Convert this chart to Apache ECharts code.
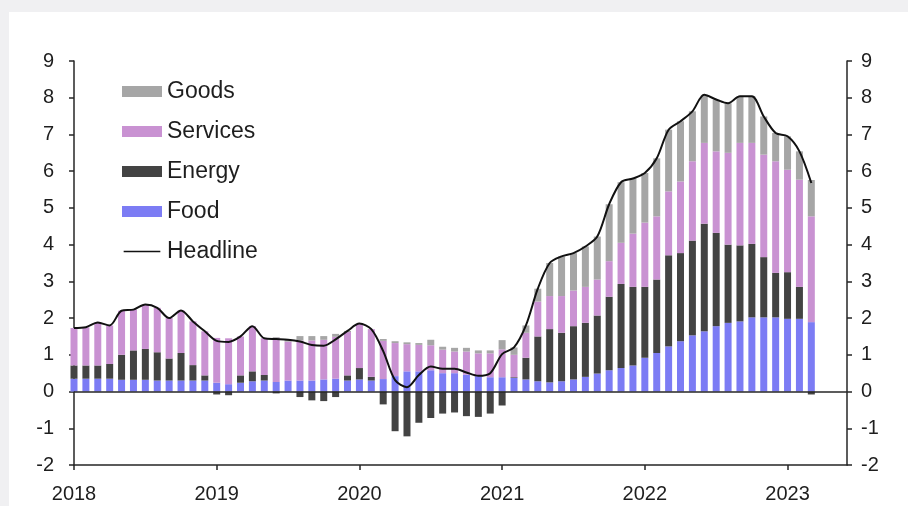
<!DOCTYPE html>
<html><head><meta charset="utf-8">
<script src="https://cdn.jsdelivr.net/npm/echarts@6/dist/echarts.min.js"></script>
<style>
html,body{margin:0;padding:0;background:#f0f0f2;width:908px;height:506px;overflow:hidden;}
#panel{position:absolute;left:9px;top:12px;right:0;bottom:0;background:#fff;}
#chart{position:absolute;left:0;top:0;width:908px;height:506px;}
</style></head><body>
<div id="panel"></div><div id="chart"></div>
<script>
const months = [
 '2018-01','2018-02','2018-03','2018-04','2018-05','2018-06','2018-07','2018-08','2018-09','2018-10','2018-11','2018-12',
 '2019-01','2019-02','2019-03','2019-04','2019-05','2019-06','2019-07','2019-08','2019-09','2019-10','2019-11','2019-12',
 '2020-01','2020-02','2020-03','2020-04','2020-05','2020-06','2020-07','2020-08','2020-09','2020-10','2020-11','2020-12',
 '2021-01','2021-02','2021-03','2021-04','2021-05','2021-06','2021-07','2021-08','2021-09','2021-10','2021-11','2021-12',
 '2022-01','2022-02','2022-03','2022-04','2022-05','2022-06','2022-07','2022-08','2022-09','2022-10','2022-11','2022-12',
 '2023-01','2023-02','2023-03','2023-04','2023-05','2023-06'
];
const food = [
 0.35,0.35,0.35,0.35,0.32,0.32,0.32,0.30,0.30,0.30,0.30,0.30,
 0.24,0.20,0.24,0.28,0.30,0.26,0.30,0.30,0.30,0.33,0.35,0.30,
 0.33,0.30,0.34,0.42,0.55,0.55,0.58,0.50,0.50,0.46,0.42,0.39,
 0.39,0.37,0.33,0.28,0.25,0.28,0.33,0.40,0.49,0.58,0.64,0.71,
 0.92,1.05,1.23,1.37,1.53,1.64,1.78,1.87,1.91,2.02,2.02,2.02,
 1.98,1.98,1.89
];
const energy = [
 0.36,0.36,0.36,0.40,0.68,0.80,0.84,0.77,0.60,0.75,0.42,0.14,
 -0.08,-0.10,0.20,0.27,0.15,-0.05,0.00,-0.15,-0.24,-0.26,-0.15,0.14,
 0.31,0.10,-0.35,-1.08,-1.22,-0.85,-0.72,-0.60,-0.57,-0.67,-0.69,-0.60,
 -0.38,0.02,0.59,1.22,1.45,1.32,1.45,1.47,1.58,2.00,2.29,2.14,
 1.93,2.00,2.48,2.40,2.58,2.93,2.54,2.13,2.07,2.00,1.64,1.21,
 1.27,0.87,-0.08
];
const services = [
 1.02,1.04,1.17,1.05,1.20,1.11,1.21,1.21,1.10,1.16,1.19,1.20,
 1.22,1.25,1.06,1.23,1.00,1.20,1.06,1.09,1.09,1.08,1.14,1.18,
 1.21,1.30,1.04,0.90,0.74,0.72,0.68,0.64,0.59,0.63,0.62,0.65,
 0.76,0.61,0.68,0.95,0.90,1.00,0.97,0.98,0.98,0.97,1.12,1.45,
 1.75,1.72,1.74,1.95,2.16,2.20,2.22,2.50,2.79,2.75,2.79,3.04,
 2.79,2.92,2.88
];
const goods = [
 0,0,0,0,0,0,0,0,0,0,0,0,
 0,0,0,0,0,0.02,0.05,0.12,0.12,0.10,0.08,0.03,
 0,0,0.05,0.05,0.05,0.05,0.15,0.08,0.10,0.10,0.08,0.08,
 0.25,0.20,0.20,0.35,0.90,1.08,1.02,1.10,1.17,1.55,1.65,1.50,
 1.35,1.58,1.68,1.64,1.36,1.31,1.41,1.35,1.27,1.27,1.04,0.77,
 0.91,0.77,0.99
];
const headline = [
 1.73,1.75,1.88,1.80,2.20,2.23,2.37,2.28,2.00,2.21,1.91,1.64,
 1.38,1.35,1.50,1.78,1.45,1.43,1.41,1.36,1.27,1.25,1.42,1.65,
 1.85,1.70,1.10,0.31,0.12,0.45,0.68,0.62,0.62,0.52,0.43,0.50,
 1.02,1.20,1.80,2.80,3.50,3.68,3.77,3.95,4.22,5.10,5.70,5.80,
 5.95,6.35,7.13,7.36,7.63,8.08,7.95,7.85,8.04,8.04,7.49,7.04,
 6.95,6.54,5.68
];
const yTicks = [-2,-1,0,1,2,3,4,5,6,7,8,9];

const FONT = 'Liberation Sans, Arial, Helvetica, sans-serif';
const TXT = '#1e1e1e';
const AX = '#262626';
const colors = {Goods:'#a6a6a6', Services:'#c992d2', Energy:'#434343', Food:'#7c7cf4', Headline:'#111111'};

function yAxisCfg(pos, margin){
  return {
    type:'value', position:pos, min:yTicks[0], max:yTicks[yTicks.length-1], interval:1,
    axisLine:{show:true, lineStyle:{color:AX, width:1.5}},
    axisTick:{show:true, inside:false, length:5, lineStyle:{color:AX, width:1.5}},
    axisLabel:{color:TXT, fontSize:20, fontFamily:FONT, margin:margin},
    splitLine:{show:false}
  };
}

const chart = echarts.init(document.getElementById('chart'), null, {renderer:'canvas'});
const barBase = {type:'bar', stack:'c', barWidth:7, clip:true, animation:false, emphasis:{disabled:true}};
chart.setOption({
  animation:false,
  backgroundColor:'transparent',
  grid:{left:74, right:61, top:61, bottom:41, containLabel:false},
  legend:{
    orient:'vertical', left:117, top:75, itemWidth:40, itemHeight:11, itemGap:17,
    textStyle:{color:TXT, fontSize:23, fontFamily:FONT, lineHeight:22},
    data:[
      {name:'Goods', icon:'rect'},
      {name:'Services', icon:'rect'},
      {name:'Energy', icon:'rect'},
      {name:'Food', icon:'rect'},
      {name:'Headline', icon:'path://M0,0L0.01,0L0.01,0.01L0,0.01Z M0,5.2L40,5.2L40,6.8L0,6.8Z M39.99,11.99L40,11.99L40,12L39.99,12Z'}
    ],
    selectedMode:false
  },
  xAxis:{
    type:'category', data:months, boundaryGap:false, position:'bottom',
    axisLine:{onZero:false, lineStyle:{color:AX, width:1.5}},
    axisTick:{show:true, interval:11, length:5, lineStyle:{color:AX, width:1.5}},
    axisLabel:{interval:11, color:TXT, fontSize:20, fontFamily:FONT, margin:19,
      formatter:(v)=>v.slice(0,4)},
    splitLine:{show:false}
  },
  yAxis:[yAxisCfg('left',20), yAxisCfg('right',14)],
  series:[
    Object.assign({}, barBase, {name:'Food', data:food, itemStyle:{color:colors.Food}}),
    Object.assign({}, barBase, {name:'Energy', data:energy, itemStyle:{color:colors.Energy}}),
    Object.assign({}, barBase, {name:'Services', data:services, itemStyle:{color:colors.Services}}),
    Object.assign({}, barBase, {name:'Goods', data:goods, itemStyle:{color:colors.Goods}}),
    {type:'line', name:'Headline', data:headline, smooth:0.3, symbol:'none', animation:false,
     itemStyle:{color:colors.Headline}, lineStyle:{color:colors.Headline, width:2}, z:5,
     markLine:{silent:true, symbol:'none', animation:false, label:{show:false},
       lineStyle:{color:AX, width:1.5, type:'solid'}, data:[{yAxis:0}]}}
  ]
});
</script>
</body></html>
